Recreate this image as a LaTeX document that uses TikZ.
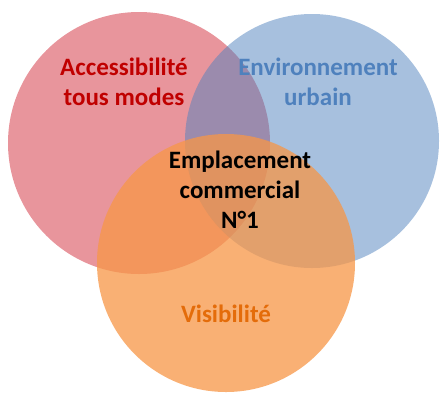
\documentclass[tikz,border=0pt]{standalone}
\usepackage{fontspec}
\setmainfont{Carlito}
\begin{document}
\begin{tikzpicture}[x=1pt,y=-1pt,
  venn/.style={draw=none},
  lbl/.style={font=\fontsize{25}{30}\selectfont\bfseries, align=center, inner sep=0pt},
]
\definecolor{redset}{RGB}{217,78,90}
\definecolor{blueset}{RGB}{79,129,189}
\definecolor{orangeset}{RGB}{247,150,70}
\definecolor{redtext}{RGB}{192,0,0}
\definecolor{bluetext}{RGB}{79,129,189}
\definecolor{orangetext}{RGB}{228,108,10}
\useasboundingbox (0,0) rectangle (444,392);
% the three sets
\fill[venn, redset, fill opacity=0.6] (139,143) circle[radius=131];
\fill[venn, blueset, fill opacity=0.5] (312,141) circle[radius=127];
\fill[venn, orangeset, fill opacity=0.75] (226,263) circle[radius=129];
% labels
\node[lbl, text=redtext] (access) at (124,82) {Accessibilité\\tous modes};
\node[lbl, text=bluetext] (env) at (318,82) {Environnement\\urbain};
\node[lbl, text=black] (center) at (240,190) {Emplacement\\commercial\\N°1};
\node[lbl, text=orangetext] (visi) at (226,314) {Visibilité};
\end{tikzpicture}
\end{document}
